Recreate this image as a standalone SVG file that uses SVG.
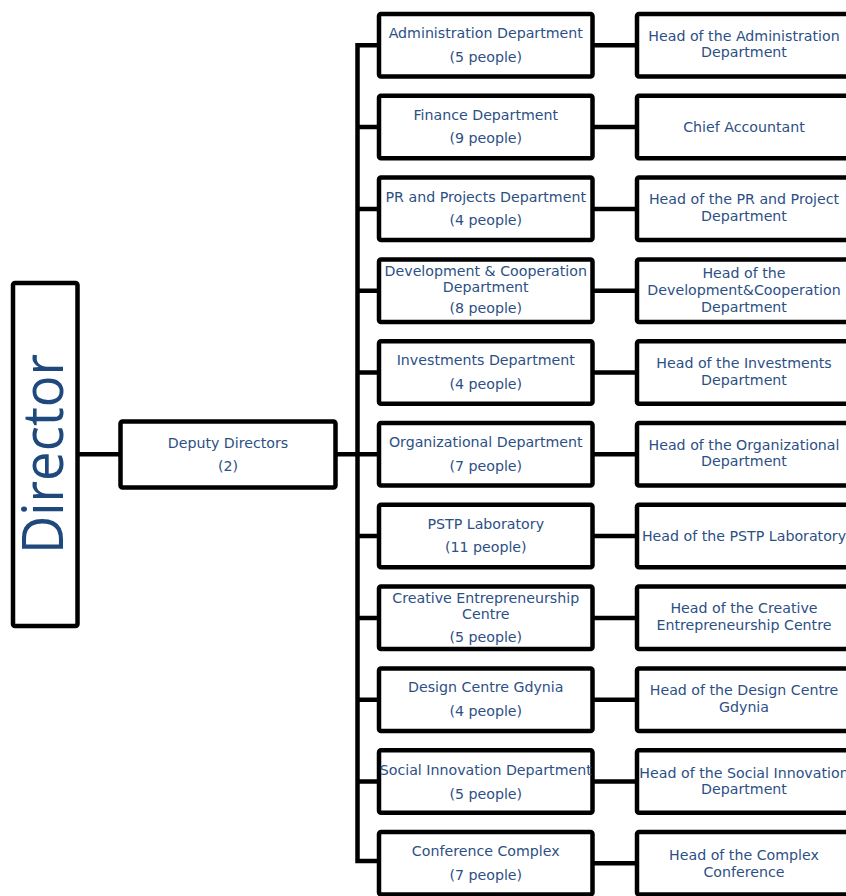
<svg xmlns="http://www.w3.org/2000/svg" width="846" height="896" viewBox="0 0 846 896">
<style>
.box{fill:#fff;stroke:#000;stroke-width:4.5;stroke-linejoin:round}
.t{font-family:"DejaVu Sans",Verdana,sans-serif;font-size:14.2px;fill:#2C5085;text-anchor:middle}
.big{font-family:"Open Sans","DejaVu Sans",sans-serif;font-size:56px;fill:#1F497D;text-anchor:middle}
.ln{fill:none;stroke:#000;stroke-width:4.5}
</style>
<rect width="846" height="896" fill="#fff"/>
<g id="connectors">
<path class="ln" d="M77.5 454.3H120.5 M335.5 454.3H357.5 M379 45.25H357.5V861H379 M357.5 127H379 M357.5 208.9H379 M357.5 290.7H379 M357.5 372.5H379 M357.5 454.3H379 M357.5 536H379 M357.5 617.9H379 M357.5 699.7H379 M357.5 781.5H379"/>
<path class="ln" d="M592.5 45.25H637 M592.5 127H637 M592.5 208.9H637 M592.5 290.7H637 M592.5 372.5H637 M592.5 454.3H637 M592.5 536H637 M592.5 617.9H637 M592.5 699.7H637 M592.5 781.5H637 M592.5 863.3H637"/>
</g>
<g id="director">
<rect class="box" x="13" y="283" width="64.5" height="343" rx="2"/>
<text class="big" transform="translate(63 454) rotate(-90)" textLength="200" lengthAdjust="spacingAndGlyphs">Director</text>
</g>
<g id="deputy">
<rect class="box" x="120.5" y="421.5" width="215" height="66" rx="2"/>
<text class="t" x="228" y="448">Deputy Directors</text>
<text class="t" x="228" y="471">(2)</text>
</g>
<g id="dept-admin">
<rect class="box" x="379" y="14" width="213.5" height="62.5" rx="2"/>
<text class="t" x="485.75" y="38">Administration Department</text>
<text class="t" x="485.75" y="61.5">(5 people)</text>
</g>
<g id="head-admin">
<rect class="box" x="637" y="14" width="214" height="62.5" rx="2"/>
<text class="t" x="744" y="40.5">Head of the Administration</text>
<text class="t" x="744" y="57.2">Department</text>
</g>
<g id="dept-finance">
<rect class="box" x="379" y="95.8" width="213.5" height="62.5" rx="2"/>
<text class="t" x="485.75" y="119.8">Finance Department</text>
<text class="t" x="485.75" y="143.3">(9 people)</text>
</g>
<g id="head-finance">
<rect class="box" x="637" y="95.8" width="214" height="62.5" rx="2"/>
<text class="t" x="744" y="132">Chief Accountant</text>
</g>
<g id="dept-pr">
<rect class="box" x="379" y="177.6" width="213.5" height="62.5" rx="2"/>
<text class="t" x="485.75" y="201.6">PR and Projects Department</text>
<text class="t" x="485.75" y="225.1">(4 people)</text>
</g>
<g id="head-pr">
<rect class="box" x="637" y="177.6" width="214" height="62.5" rx="2"/>
<text class="t" x="744" y="204.4">Head of the PR and Project</text>
<text class="t" x="744" y="220.9">Department</text>
</g>
<g id="dept-dev">
<rect class="box" x="379" y="259.4" width="213.5" height="62.5" rx="2"/>
<text class="t" x="485.75" y="276.4">Development &amp; Cooperation</text>
<text class="t" x="485.75" y="292.2">Department</text>
<text class="t" x="485.75" y="313.4">(8 people)</text>
</g>
<g id="head-dev">
<rect class="box" x="637" y="259.4" width="214" height="62.5" rx="2"/>
<text class="t" x="744" y="278.2">Head of the</text>
<text class="t" x="744" y="295.2">Development&amp;Cooperation</text>
<text class="t" x="744" y="311.7">Department</text>
</g>
<g id="dept-invest">
<rect class="box" x="379" y="341.2" width="213.5" height="62.5" rx="2"/>
<text class="t" x="485.75" y="365.2">Investments Department</text>
<text class="t" x="485.75" y="388.7">(4 people)</text>
</g>
<g id="head-invest">
<rect class="box" x="637" y="341.2" width="214" height="62.5" rx="2"/>
<text class="t" x="744" y="368">Head of the Investments</text>
<text class="t" x="744" y="384.5">Department</text>
</g>
<g id="dept-org">
<rect class="box" x="379" y="423" width="213.5" height="62.5" rx="2"/>
<text class="t" x="485.75" y="447">Organizational Department</text>
<text class="t" x="485.75" y="470.5">(7 people)</text>
</g>
<g id="head-org">
<rect class="box" x="637" y="423" width="214" height="62.5" rx="2"/>
<text class="t" x="744" y="449.8">Head of the Organizational</text>
<text class="t" x="744" y="466.3">Department</text>
</g>
<g id="dept-pstp">
<rect class="box" x="379" y="504.8" width="213.5" height="62.5" rx="2"/>
<text class="t" x="485.75" y="528.8">PSTP Laboratory</text>
<text class="t" x="485.75" y="552.3">(11 people)</text>
</g>
<g id="head-pstp">
<rect class="box" x="637" y="504.8" width="214" height="62.5" rx="2"/>
<text class="t" x="744" y="540.5">Head of the PSTP Laboratory</text>
</g>
<g id="dept-creative">
<rect class="box" x="379" y="586.6" width="213.5" height="62.5" rx="2"/>
<text class="t" x="485.75" y="603">Creative Entrepreneurship</text>
<text class="t" x="485.75" y="619.2">Centre</text>
<text class="t" x="485.75" y="641.6">(5 people)</text>
</g>
<g id="head-creative">
<rect class="box" x="637" y="586.6" width="214" height="62.5" rx="2"/>
<text class="t" x="744" y="613.4">Head of the Creative</text>
<text class="t" x="744" y="629.9">Entrepreneurship Centre</text>
</g>
<g id="dept-design">
<rect class="box" x="379" y="668.4" width="213.5" height="62.5" rx="2"/>
<text class="t" x="485.75" y="692.4">Design Centre Gdynia</text>
<text class="t" x="485.75" y="715.9">(4 people)</text>
</g>
<g id="head-design">
<rect class="box" x="637" y="668.4" width="214" height="62.5" rx="2"/>
<text class="t" x="744" y="695.2">Head of the Design Centre</text>
<text class="t" x="744" y="711.7">Gdynia</text>
</g>
<g id="dept-social">
<rect class="box" x="379" y="750.2" width="213.5" height="62.5" rx="2"/>
<text class="t" x="485.75" y="774.7">Social Innovation Department</text>
<text class="t" x="485.75" y="798.7">(5 people)</text>
</g>
<g id="head-social">
<rect class="box" x="637" y="750.2" width="214" height="62.5" rx="2"/>
<text class="t" x="744" y="777.7">Head of the Social Innovation</text>
<text class="t" x="744" y="794.2">Department</text>
</g>
<g id="dept-conference">
<rect class="box" x="379" y="832" width="213.5" height="62.5" rx="2"/>
<text class="t" x="485.75" y="856">Conference Complex</text>
<text class="t" x="485.75" y="879.5">(7 people)</text>
</g>
<g id="head-conference">
<rect class="box" x="637" y="832" width="214" height="62.5" rx="2"/>
<text class="t" x="744" y="860.3">Head of the Complex</text>
<text class="t" x="744" y="876.6">Conference</text>
</g>
</svg>
